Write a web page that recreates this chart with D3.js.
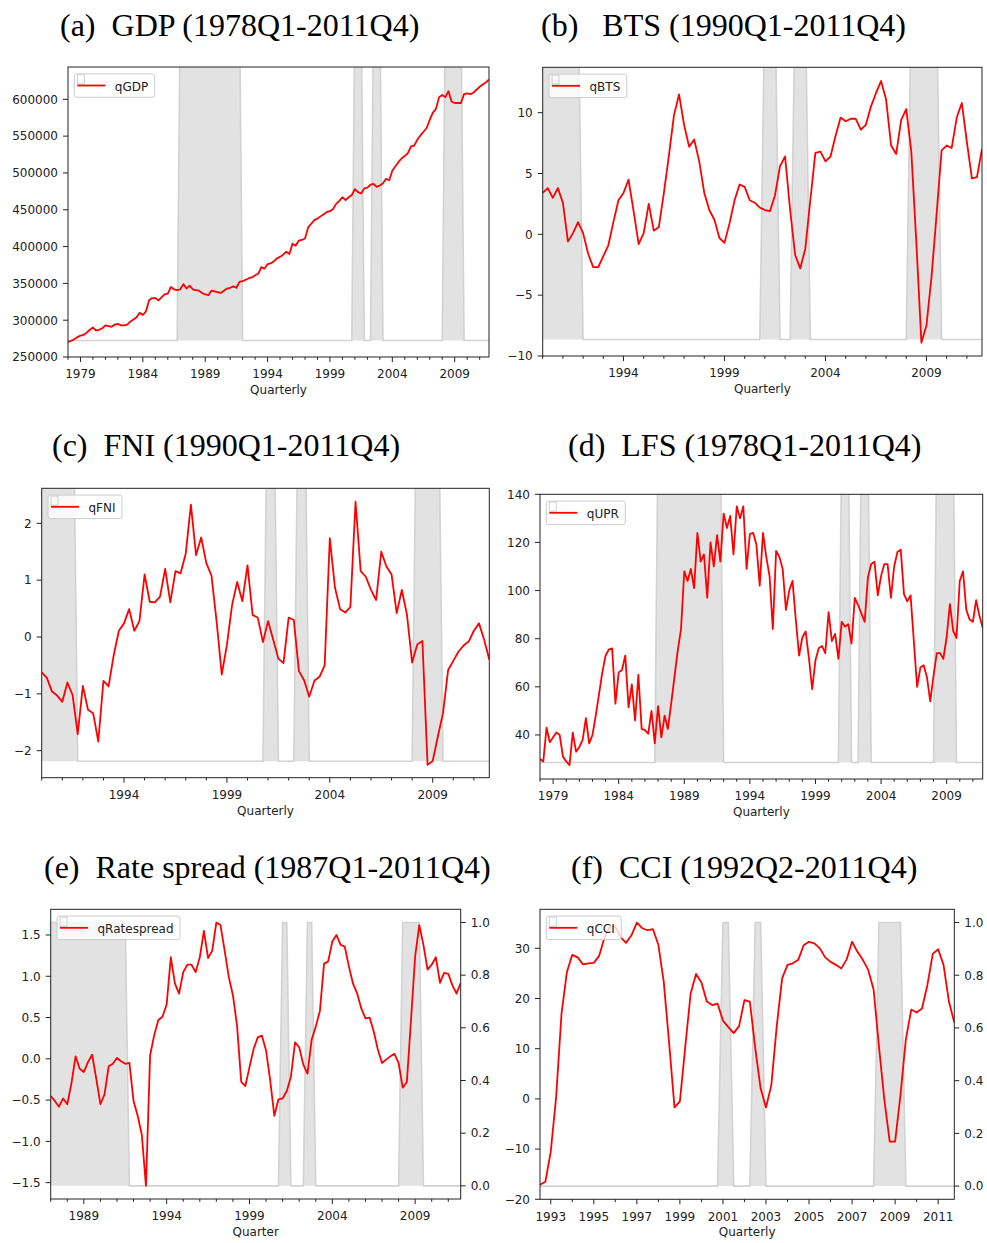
<!DOCTYPE html>
<html>
<head>
<meta charset="utf-8">
<script src="https://cdn.jsdelivr.net/npm/d3@7"></script>
<style>
  body { margin: 0; background: #fff; }
  text { font-family: 'DejaVu Sans', sans-serif; fill: #222; }
  .title { font-family: 'Liberation Serif', 'Times New Roman', serif; fill: #000; white-space: pre; }
</style>
</head>
<body>
<svg id="chart" width="987" height="1243"></svg>
<script>
// quarterly series
const gdpValues = [
  270000, 272000, 274000, 277000, 279000, 280000, 283000, 287000, 290000, 286000,
  287000, 289000, 293000, 292000, 291000, 294000, 295000, 293000, 293000, 294000,
  298000, 301000, 304000, 310000, 307000, 312000, 327000, 330000, 330000, 327000,
  331000, 335000, 336000, 345000, 342000, 341000, 342000, 349000, 343000, 347000,
  342000, 341000, 340000, 337000, 335000, 334000, 340000, 339000, 338000, 337000,
  340000, 343000, 344000, 346000, 344000, 352000, 353000, 355000, 357000, 358000,
  361000, 363000, 372000, 370000, 376000, 377000, 380000, 384000, 386000, 389000,
  393000, 390000, 404000, 401000, 408000, 409000, 411000, 426000, 431000, 436000,
  438000, 441000, 444000, 447000, 448000, 451000, 458000, 462000, 467000, 463000,
  467000, 470000, 478000, 474000, 472000, 479000, 480000, 484000, 485000, 481000,
  483000, 486000, 492000, 490000, 503000, 509000, 515000, 520000, 523000, 527000,
  536000, 537000, 545000, 551000, 556000, 561000, 572000, 582000, 587000, 603000,
  606000, 603000, 611000, 597000, 595000, 595000, 595000, 607000, 608000, 607000,
  609000, 613000, 617000, 620000, 623000, 627000
]

const btsValues = [
  3.4, 3.8, 3.0, 3.8, 2.6, -0.6, 0.1, 1.0, 0.1, -1.6,
  -2.7, -2.7, -1.8, -0.9, 1.0, 2.8, 3.4, 4.5, 1.9, -0.8,
  0.1, 2.5, 0.3, 0.6, 3.4, 6.5, 9.8, 11.5, 9.0, 7.2,
  7.8, 6.0, 3.4, 2.0, 1.2, -0.3, -0.7, 0.9, 2.8, 4.1,
  3.9, 2.8, 2.6, 2.2, 2.0, 1.9, 3.2, 5.6, 6.4, 2.0,
  -1.7, -2.8, -1.2, 2.8, 6.7, 6.8, 6.0, 6.4, 8.1, 9.6,
  9.3, 9.5, 9.5, 8.6, 9.0, 10.5, 11.6, 12.6, 11.1, 7.3,
  6.6, 9.4, 10.3, 6.8, -0.7, -8.9, -7.5, -3.5, 1.6, 6.9,
  7.3, 7.1, 9.6, 10.8, 7.6, 4.6, 4.7, 7.0
]

const fniValues = [
  -0.62, -0.72, -0.96, -1.03, -1.14, -0.80, -1.02, -1.71, -0.86, -1.28,
  -1.34, -1.84, -0.77, -0.87, -0.32, 0.11, 0.24, 0.49, 0.11, 0.28,
  1.10, 0.62, 0.61, 0.71, 1.20, 0.61, 1.16, 1.12, 1.47, 2.33,
  1.44, 1.75, 1.30, 1.08, 0.27, -0.66, -0.14, 0.56, 0.97, 0.63,
  1.26, 0.39, 0.34, -0.09, 0.28, -0.05, -0.38, -0.46, 0.34, 0.30,
  -0.60, -0.76, -1.05, -0.77, -0.70, -0.50, 1.74, 0.87, 0.49, 0.43,
  0.53, 2.38, 1.16, 1.06, 0.83, 0.65, 1.50, 1.24, 1.10, 0.42,
  0.83, 0.39, -0.45, -0.13, -0.07, -2.25, -2.18, -1.75, -1.34, -0.58,
  -0.42, -0.26, -0.15, -0.08, 0.11, 0.24, -0.05, -0.40
]

const uprValues = [
  30, 29, 43, 37, 39, 41, 40, 31, 29, 27.5,
  41, 33, 35, 38, 47, 36.5, 40, 48, 57, 66,
  73, 75.5, 76, 53, 66, 67, 73, 51.5, 61, 46,
  65, 42.5, 42, 40.5, 50, 36.5, 52, 39, 48, 42.5,
  53, 64, 75, 84, 108, 104, 109, 101, 124, 112,
  115, 97, 120, 110, 123, 112, 132, 126, 131, 115,
  135, 130, 135, 109, 123.5, 124, 119, 102, 124, 114,
  106, 84, 116.5, 114, 109, 92, 100, 104, 88, 73,
  80.5, 83, 72, 59, 71, 76, 77, 74, 91, 79,
  82, 71.6, 87, 85, 86, 78, 97, 94, 90.5, 87,
  105.5, 111, 112, 98, 106, 111, 111, 97, 110, 116,
  117, 98.5, 95.5, 98, 79, 60, 68, 69, 64, 54,
  64.6, 74, 74, 71.6, 80.6, 94.4, 83.3, 80.3, 104, 108,
  92, 88, 87, 96, 89.5, 84.5
]

const spreadValues = [
  -0.45, -0.51, -0.58, -0.48, -0.55, -0.30, 0.03, -0.12, -0.16, -0.04,
  0.05, -0.24, -0.55, -0.43, -0.09, -0.06, 0.01, -0.03, -0.06, -0.05,
  -0.51, -0.69, -0.92, -1.54, 0.04, 0.29, 0.47, 0.51, 0.66, 1.23,
  0.91, 0.79, 1.05, 1.14, 1.14, 1.05, 1.23, 1.55, 1.22, 1.31,
  1.65, 1.62, 1.31, 0.99, 0.77, 0.40, -0.28, -0.33, -0.10, 0.12,
  0.26, 0.28, 0.10, -0.26, -0.69, -0.49, -0.48, -0.39, -0.22, 0.20,
  0.14, -0.07, -0.18, 0.23, 0.39, 0.58, 1.15, 1.18, 1.42, 1.50,
  1.38, 1.36, 1.12, 0.91, 0.79, 0.61, 0.49, 0.50, 0.33, 0.11,
  -0.05, -0.01, 0.03, 0.06, -0.05, -0.35, -0.28, 0.47, 1.24, 1.62,
  1.38, 1.08, 1.14, 1.23, 0.92, 1.04, 1.03, 0.89, 0.79, 0.92
]

const cciValues = [
  -17.1, -16.5, -10.5, 0.4, 17.0, 25.3, 28.7, 28.2, 26.8, 27.0,
  27.1, 28.5, 32.2, 34.3, 34.3, 32.2, 31.1, 32.6, 35.1, 34.0,
  33.6, 33.8, 30.7, 23.3, 11.1, -1.7, -0.5, 10.4, 21.0, 24.9,
  23.2, 19.4, 18.7, 19.0, 15.6, 14.3, 13.1, 14.5, 19.7, 19.4,
  10.1, 2.1, -1.7, 2.8, 14.5, 24.0, 26.7, 27.0, 27.7, 30.6,
  31.3, 31.0, 30.0, 28.2, 27.3, 26.7, 26.0, 27.8, 31.3, 29.3,
  27.7, 25.7, 21.8, 10.4, -0.2, -8.5, -8.5, 0.8, 11.9, 17.8,
  17.2, 18.0, 22.7, 28.9, 29.8, 26.7, 19.4, 15.2
]

// recession quarters (first, last) used for the grey shading
const recessionsLong = [['1987Q1', '1991Q4'], ['2001Q1', '2001Q3'], ['2002Q3', '2003Q1'], ['2008Q2', '2009Q3']]
const recessionsShort = [['1987Q1', '1991Q3'], ['2001Q1', '2001Q2'], ['2002Q3', '2002Q4'], ['2008Q2', '2009Q2']]

// tick labels
const gdpTicks = [250000, 300000, 350000, 400000, 450000, 500000, 550000, 600000]
const btsTicks = [-10, -5, 0, 5, 10]
const fniTicks = [-2, -1, 0, 1, 2]
const uprTicks = [40, 60, 80, 100, 120, 140]
const spreadTicks = [-1.5, -1.0, -0.5, 0.0, 0.5, 1.0, 1.5]
const cciTicks = [-20, -10, 0, 10, 20, 30]
const shareTicks = [0.0, 0.2, 0.4, 0.6, 0.8, 1.0]
const yearsFrom1979 = [1979, 1984, 1989, 1994, 1999, 2004, 2009]
const yearsFrom1994 = [1994, 1999, 2004, 2009]
const yearsFrom1989 = [1989, 1994, 1999, 2004, 2009]
const yearsEveryTwo = [1993, 1995, 1997, 1999, 2001, 2003, 2005, 2007, 2009, 2011]

const svg = d3.select('#chart')

function quarterToYear(q) {
  return +q.slice(0, 4) + (+q.slice(5) - 1) / 4
}

function recessionFlags(t0, n, periods) {
  return d3.range(n).map(i => {
    const t = t0 + i / 4
    const hit = periods.some(p => t >= quarterToYear(p[0]) - 1e-6 && t <= quarterToYear(p[1]) + 1e-6)
    return hit ? 1 : 0
  })
}

const panels = [
  { title: '(a)  GDP (1978Q1-2011Q4)', titleX: 60, titleY: 36, name: 'qGDP', start: '1978Q1',
    values: gdpValues, box: [68, 67, 489, 357], yDomain: [250000, 643900], yTicks: gdpTicks,
    yFormat: d3.format('d'), years: yearsFrom1979, xLabel: 'Quarterly', rec: recessionsLong, recStretch: 1.22 },
  { title: '(b)   BTS (1990Q1-2011Q4)', titleX: 541, titleY: 36, name: 'qBTS', start: '1990Q1',
    values: btsValues, box: [542.7, 67.3, 982, 356], yDomain: [-10, 13.73], yTicks: btsTicks,
    yFormat: d3.format('d'), years: yearsFrom1994, xLabel: 'Quarterly', rec: recessionsLong, recStretch: 1.26 },
  { title: '(c)  FNI (1990Q1-2011Q4)', titleX: 52, titleY: 456, name: 'qFNI', start: '1990Q1',
    values: fniValues, box: [41.7, 488.3, 489.3, 777.7], yDomain: [-2.475, 2.616], yTicks: fniTicks,
    yFormat: d3.format('d'), years: yearsFrom1994, xLabel: 'Quarterly', rec: recessionsShort, recStretch: 1.6 },
  { title: '(d)  LFS (1978Q1-2011Q4)', titleX: 568, titleY: 456, name: 'qUPR', start: '1978Q1',
    values: uprValues, box: [540, 494.3, 982.7, 779], yDomain: [21.7, 140], yTicks: uprTicks,
    yFormat: d3.format('d'), years: yearsFrom1979, xLabel: 'Quarterly', rec: recessionsLong, recStretch: 1.22 },
  { title: '(e)  Rate spread (1987Q1-2011Q4)', titleX: 44, titleY: 878, name: 'qRatespread', start: '1987Q1',
    values: spreadValues, box: [50.7, 909.3, 460.7, 1199], yDomain: [-1.698, 1.811], yTicks: spreadTicks,
    yFormat: d3.format('.1f'), years: yearsFrom1989, xLabel: 'Quarter', rec: recessionsShort, rightAxis: true },
  { title: '(f)  CCI (1992Q2-2011Q4)', titleX: 571, titleY: 878, name: 'qCCI', start: '1992Q3',
    values: cciValues, box: [540, 909.3, 954.3, 1199.3], yDomain: [-20, 37.77], yTicks: cciTicks,
    yFormat: d3.format('d'), years: yearsEveryTwo, xLabel: 'Quarterly', rec: recessionsShort, rightAxis: true }
]

function drawPanel(p, idx) {
  const [x0, y0, x1, y1] = p.box
  const t0 = quarterToYear(p.start)
  const n = p.values.length
  const t1 = t0 + (n - 1) / 4
  const x = d3.scaleLinear().domain([t0, t1]).range([x0, x1])
  const y = d3.scaleLinear().domain(p.yDomain).range([y1, y0])

  let yRec
  if (p.rightAxis) {
    yRec = d3.scaleLinear().domain([-0.05, 1.05]).range([y1, y0])
  } else {
    const base = y1 - 16.5
    yRec = d3.scaleLinear().domain([0, 1]).range([base, base - p.recStretch * (base - y0)])
  }

  const g = svg.append('g')
  const clipId = 'clip' + idx
  g.append('clipPath').attr('id', clipId)
    .append('rect').attr('x', x0).attr('y', y0).attr('width', x1 - x0).attr('height', y1 - y0)

  g.append('text').attr('class', 'title')
    .attr('x', p.titleX).attr('y', p.titleY)
    .attr('font-size', 32)
    .text(p.title)

  // recession shading
  const flags = recessionFlags(t0, n, p.rec)
  const recPts = flags.map((f, i) => ({ t: t0 + i / 4, v: f }))
  const plotArea = g.append('g').attr('clip-path', `url(#${clipId})`)
  plotArea.append('path')
    .datum(recPts)
    .attr('fill', '#e2e2e2')
    .attr('d', d3.area().x(d => x(d.t)).y0(yRec(0)).y1(d => yRec(d.v)))
  plotArea.append('path')
    .datum(recPts)
    .attr('fill', 'none')
    .attr('stroke', '#d2d2d2')
    .attr('stroke-width', 1.6)
    .attr('d', d3.line().x(d => x(d.t)).y(d => yRec(d.v)))

  // data line
  plotArea.append('path')
    .datum(p.values)
    .attr('fill', 'none')
    .attr('stroke', '#ff0000')
    .attr('stroke-width', 1.8)
    .attr('stroke-linejoin', 'round')
    .attr('d', d3.line().x((d, i) => x(t0 + i / 4)).y(d => y(d)))

  // frame
  g.append('rect')
    .attr('x', x0).attr('y', y0).attr('width', x1 - x0).attr('height', y1 - y0)
    .attr('fill', 'none').attr('stroke', '#222').attr('stroke-width', 1)

  // left axis
  p.yTicks.forEach(v => {
    g.append('line').attr('x1', x0 - 5).attr('x2', x0).attr('y1', y(v)).attr('y2', y(v))
      .attr('stroke', '#222')
    g.append('text').attr('x', x0 - 10).attr('y', y(v)).attr('dy', '0.36em')
      .attr('text-anchor', 'end').attr('font-size', 12).text(p.yFormat(v))
  })

  if (p.rightAxis) {
    shareTicks.forEach(v => {
      g.append('line').attr('x1', x1).attr('x2', x1 + 5).attr('y1', yRec(v)).attr('y2', yRec(v))
        .attr('stroke', '#222')
      g.append('text').attr('x', x1 + 10).attr('y', yRec(v)).attr('dy', '0.36em')
        .attr('text-anchor', 'start').attr('font-size', 12).text(d3.format('.1f')(v))
    })
  }

  // bottom axis: labelled years plus a small tick every year
  d3.range(Math.ceil(t0), Math.floor(t1) + 1).forEach(yr => {
    const major = p.years.includes(yr)
    g.append('line').attr('x1', x(yr)).attr('x2', x(yr))
      .attr('y1', y1).attr('y2', y1 + (major ? 5 : 2.8))
      .attr('stroke', '#222')
    if (major) {
      g.append('text').attr('x', x(yr)).attr('y', y1 + 21.3)
        .attr('text-anchor', 'middle').attr('font-size', 12).text(yr)
    }
  })

  g.append('text').attr('x', (x0 + x1) / 2).attr('y', y1 + 37)
    .attr('text-anchor', 'middle').attr('font-size', 12).text(p.xLabel)

  // legend
  const lx = x0 + 6.3
  const ly = y0 + 6.8
  const legend = g.append('g')
  const box = legend.append('rect')
    .attr('x', lx).attr('y', ly).attr('height', 23.5).attr('rx', 2.5)
    .attr('fill', '#fff').attr('fill-opacity', 0.8)
    .attr('stroke', '#cccccc').attr('stroke-width', 1)
  legend.append('rect')
    .attr('x', lx + 3).attr('y', ly + 1).attr('width', 7).attr('height', 9)
    .attr('fill', 'none').attr('stroke', '#d0d0d0').attr('stroke-width', 1)
  legend.append('line')
    .attr('x1', lx + 3).attr('x2', lx + 31).attr('y1', ly + 11.7).attr('y2', ly + 11.7)
    .attr('stroke', '#ff0000').attr('stroke-width', 1.8)
  const label = legend.append('text')
    .attr('x', lx + 40.5).attr('y', ly + 16.7).attr('font-size', 12).text(p.name)
  box.attr('width', label.node().getComputedTextLength() + 47)
}

panels.forEach(drawPanel)
</script>
</body>
</html>
